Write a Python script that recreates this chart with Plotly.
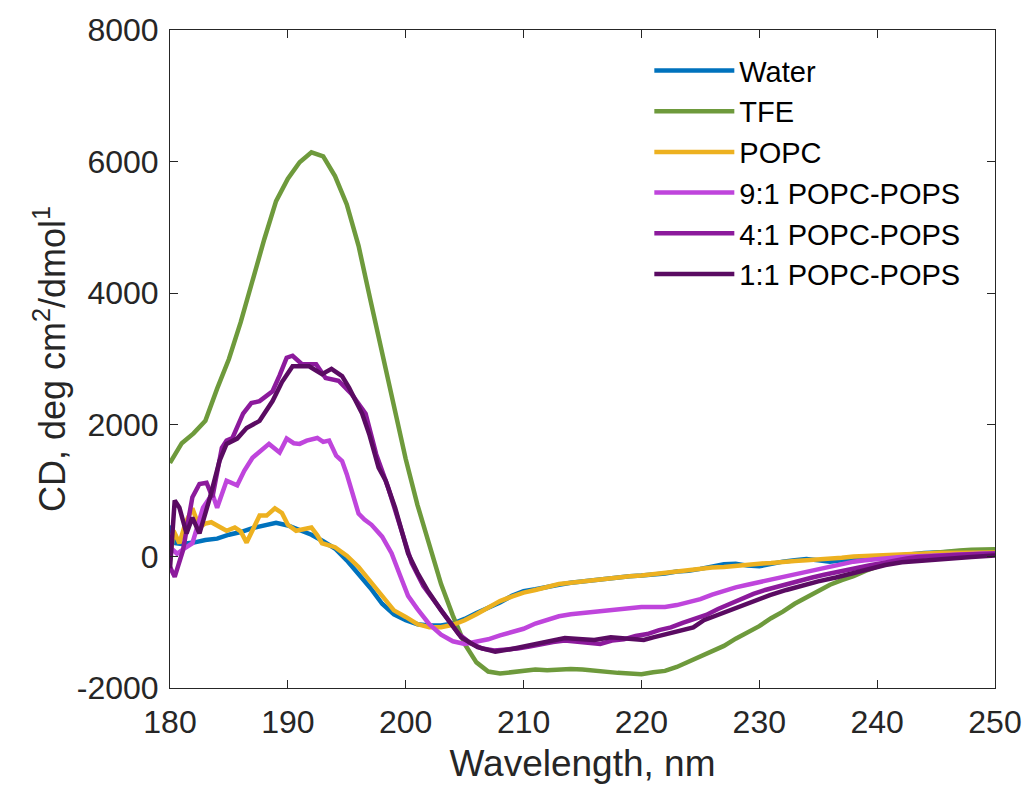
import plotly.graph_objects as go

# ---------------- data ----------------
water_x = [180, 180.5, 181, 182, 183, 184, 185, 186, 187, 188, 189, 190, 191, 192, 193, 194, 195, 196, 197, 198, 199,
           200, 201, 202, 203, 204, 205, 206, 207, 208, 209, 210, 211, 212, 213, 214, 215, 216, 217, 218, 219,
           220, 221, 222, 223, 224, 225, 226, 227, 228, 229, 230, 231, 232, 233, 234, 235, 236, 237, 238, 239,
           240, 241, 242, 243, 244, 245, 246, 247, 248, 249, 250]
water_y = [470, 200, 190, 210, 250, 270, 330, 370, 430, 470, 510, 470, 400, 330, 230, 120, -60, -260, -480, -720, -880,
           -970, -1030, -1050, -1050, -1020, -950, -860, -780, -700, -600, -530, -500, -460, -430, -400, -380, -350, -330, -310, -300,
           -290, -280, -260, -230, -220, -190, -160, -120, -110, -140, -150, -110, -80, -60, -40, -60, -80, -60, -40, -20,
           -10, 0, 20, 40, 50, 60, 70, 80, 90, 85, 75]

tfe_x = [180, 181, 182, 183, 184, 185, 186, 187, 188, 189, 190, 191, 192, 193, 194, 195, 196, 197, 198, 199,
         200, 201, 202, 203, 204, 205, 206, 207, 208, 209, 210, 211, 212, 213, 214, 215, 216, 217, 218, 219,
         220, 221, 222, 223, 224, 225, 226, 227, 228, 229, 230, 231, 232, 233, 234, 235, 236, 237, 238, 239,
         240, 241, 242, 243, 244, 245, 246, 247, 248, 249, 250]
tfe_y = [1420, 1720, 1870, 2060, 2550, 3000, 3560, 4200, 4820, 5400, 5740, 5990, 6140, 6080, 5780, 5350, 4720, 3900, 3080, 2250,
         1480, 780, 150, -420, -900, -1330, -1610, -1750, -1780, -1760, -1730, -1720, -1730, -1720, -1710, -1720, -1740, -1760, -1770, -1780,
         -1790, -1760, -1740, -1680, -1600, -1520, -1450, -1360, -1250, -1160, -1060, -940, -840, -720, -620, -520, -430, -360, -300, -220,
         -150, -90, -40, 10, 40, 60, 80, 90, 100, 105, 110]

popc_x = [180, 180.3, 180.8, 181.3, 181.9, 182.5, 183, 183.5, 184, 184.8, 185.5, 186, 186.5, 187, 187.6, 188.2, 188.9, 189.5,
          190, 190.7, 191.3, 192, 192.5, 192.9, 194, 195, 196, 197, 198, 199,
          200, 201, 202, 203, 204, 205, 206, 207, 208, 209, 210, 211, 212, 213, 214, 215, 216, 217, 218, 219,
          220, 221, 222, 223, 224, 225, 226, 227, 228, 229, 230, 231, 232, 233, 234, 235, 236, 237, 238, 239,
          240, 241, 242, 243, 244, 245, 246, 247, 248, 249, 250]
popc_y = [-60, 390, 200, 500, 730, 440, 500, 520, 470, 390, 440, 380, 210, 380, 620, 620, 730, 660,
          480, 390, 420, 440, 320, 200, 140, 10, -160, -380, -600, -820,
          -920, -1030, -1075, -1075, -1040, -970, -880, -780, -680, -610, -550, -510, -460, -420, -400, -380, -350, -330, -310, -300,
          -290, -270, -250, -220, -200, -180, -170, -160, -140, -120, -110, -100, -80, -70, -60, -50, -40, -20, 0, 10,
          15, 20, 30, 40, 45, 50, 55, 60, 60, 60, 60]

p91_x = [180, 180.6, 181.2, 181.9, 182.8, 183.6, 184, 184.8, 185.7, 186.3, 187, 187.7, 188.4, 189.3, 189.9, 190.5, 191,
         191.6, 192.5, 193, 193.5, 194.1, 194.6, 195, 195.5, 196, 196.5, 197.1, 198, 198.8, 199.5, 200.2,
         201, 202, 203, 204, 205, 206, 207, 208, 209, 210, 211, 212, 213, 214, 215, 216, 217, 218, 219,
         220, 221, 222, 223, 224, 225, 226, 227, 228, 229, 230, 231, 232, 233, 234, 235, 236, 237, 238, 239,
         240, 241, 242, 243, 244, 245, 246, 247, 248, 249, 250]
p91_y = [140, 40, 120, 200, 740, 950, 740, 1150, 1080, 1300, 1500, 1600, 1710, 1580, 1790, 1720, 1710,
         1760, 1800, 1740, 1760, 1530, 1450, 1250, 950, 650, 560, 480, 300, 50, -280, -600,
         -800, -1030, -1190, -1290, -1330, -1300, -1260, -1200, -1150, -1100, -1020, -960, -910, -880, -860, -840, -820, -800, -780,
         -770, -770, -770, -740, -690, -650, -580, -520, -470, -430, -390, -350, -310, -280, -240, -200, -150, -110, -80, -60,
         -40, -25, -10, 0, 10, 20, 30, 40, 45, 45, 45]

p41_x = [180, 180.4, 181.1, 181.9, 182.5, 183.1, 183.6, 184.4, 184.8, 185.3, 186.2, 186.9, 187.6, 188.7, 189.3, 189.9,
         190.4, 191.2, 192.4, 193.2, 194.3, 195.4, 196.6, 197.5, 198.5, 199.5, 200.5, 201.5, 202.5, 203.5, 204.5,
         205.5, 206.5, 207.5, 208.5, 209.5, 210.5, 211.5, 212.5, 213.5, 214.5, 215.5, 216.5, 217.5, 218.5, 219.5,
         220.5, 221.5, 222.5, 223.5, 224.5, 225.5, 226.5, 227.5, 228.5, 229.5, 230.5, 231.5, 232.5, 233.5, 234.5,
         235.5, 236.5, 237.5, 238.5, 239.5, 240.5, 241.5, 242.5, 243.5, 244.5, 245.5, 246.5, 247.5, 248.5, 249.5, 250]
p41_y = [-160, -310, 90, 900, 1100, 1120, 900, 1650, 1760, 1800, 2170, 2330, 2360, 2510, 2750, 3020,
         3050, 2920, 2920, 2710, 2670, 2470, 2170, 1550, 1050, 480, -100, -450, -700, -950, -1180,
         -1320, -1400, -1430, -1420, -1400, -1370, -1330, -1300, -1280, -1300, -1320, -1330, -1280, -1260, -1210,
         -1180, -1120, -1080, -1010, -950, -890, -800, -720, -640, -570, -510, -460, -410, -370, -320,
         -280, -240, -200, -160, -130, -100, -60, -30, -10, 5, 15, 20, 30, 40, 45, 45]

p11_x = [180, 180.4, 180.8, 181.4, 181.9, 182.5, 183.4, 184.2, 184.8, 185.7, 186.5, 187.6, 188.7, 189.5, 190.4,
         191.8, 192.9, 193.7, 194.6, 195.2, 196.3, 196.9, 197.7, 198.3, 199.1, 200.2, 201, 201.9, 203, 203.4,
         204.7, 206.1, 207.6, 208.9, 210, 211, 212, 213.5, 215, 216, 217.4, 218.5, 219.6, 220.2, 221, 222.4,
         223, 224.4, 225.3, 226.5, 228.1, 229.5, 230.9, 232.3, 233.7, 235, 236.5, 238, 239.3, 240.7, 242.1,
         244, 246.4, 248, 250]
p11_y = [-180, 850, 740, 350, 590, 350, 900, 1450, 1710, 1790, 1950, 2060, 2360, 2650, 2890,
         2890, 2770, 2850, 2740, 2560, 2170, 1860, 1350, 1150, 740, 45, -250, -530, -820, -920,
         -1230, -1380, -1450, -1410, -1370, -1330, -1290, -1240, -1260, -1270, -1230, -1250, -1260, -1270, -1230, -1170,
         -1150, -1080, -970, -890, -770, -680, -590, -510, -440, -380, -320, -250, -180, -130, -90,
         -60, -30, -10, 15]

series = [
    ("Water", water_x, water_y, "#0072BD"),
    ("TFE", tfe_x, tfe_y, "#6E9A3C"),
    ("POPC", popc_x, popc_y, "#EDB120"),
    ("9:1 POPC-POPS", p91_x, p91_y, "#BF45DC"),
    ("4:1 POPC-POPS", p41_x, p41_y, "#8C1A9C"),
    ("1:1 POPC-POPS", p11_x, p11_y, "#5A0B62"),
]

x_ticks = [180, 190, 200, 210, 220, 230, 240, 250]
y_ticks = [-2000, 0, 2000, 4000, 6000, 8000]
y_tick_text = ["-2000", "0", "2000", "4000", "6000", "8000"]

# ---------------- figure ----------------
fig = go.Figure()
for name, xs, ys, col in series:
    fig.add_trace(go.Scatter(x=xs, y=ys, mode="lines", name=name,
                             line=dict(color=col, width=4.5)))

font_family = "Liberation Sans, Arial, sans-serif"
axis_common = dict(showgrid=False, zeroline=False, showline=True, mirror="allticks",
                   linecolor="#262626", linewidth=1, ticks="inside", ticklen=8,
                   tickcolor="#262626", tickfont=dict(family=font_family, size=32, color="#262626"))

fig.update_layout(
    width=1034, height=791,
    margin=dict(l=170, r=34, t=28, b=103),
    paper_bgcolor="white", plot_bgcolor="white",
    font=dict(family=font_family, color="#262626"),
    xaxis=dict(range=[180, 250], tickvals=x_ticks, ticklabelstandoff=6, **axis_common,
               title=dict(text="Wavelength, nm", font=dict(family=font_family, size=37, color="#262626"),
                          standoff=10)),
    yaxis=dict(range=[-2000, 8000], tickvals=y_ticks, ticktext=y_tick_text, ticklabelstandoff=4, **axis_common,
               title=dict(text="CD, deg cm<sup>2</sup>/dmol<sup>1</sup>",
                          font=dict(family=font_family, size=36, color="#262626"), standoff=0)),
    legend=dict(x=0.581, y=0.977, xanchor="left", yanchor="top",
                bgcolor="rgba(0,0,0,0)", borderwidth=0,
                font=dict(family=font_family, size=29, color="#000000"),
                itemwidth=80, tracegroupgap=0),
    showlegend=True,
)

fig.write_html("out.html")
